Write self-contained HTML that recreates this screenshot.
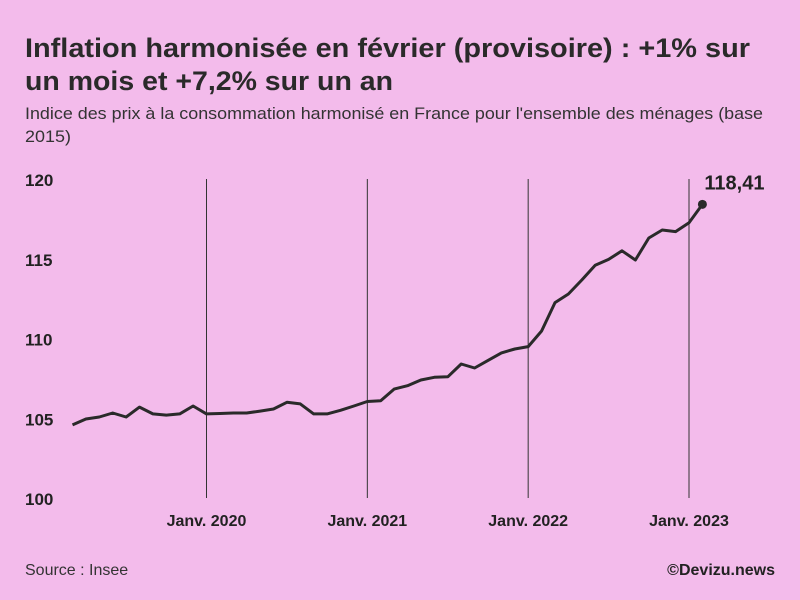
<!DOCTYPE html>
<html><head><meta charset="utf-8"><style>
html,body{margin:0;padding:0;background:#f3bbeb;}
svg{display:block;font-family:"Liberation Sans",sans-serif;}
</style></head><body>
<svg id="chart" width="800" height="600" viewBox="0 0 800 600" xmlns="http://www.w3.org/2000/svg">
<rect width="800" height="600" fill="#f3bbeb"/>
<text x="25" y="57" font-size="27" font-weight="bold" fill="#2a2a2a" textLength="725" lengthAdjust="spacingAndGlyphs">Inflation harmonisée en février (provisoire) : +1% sur</text>
<text x="25" y="90" font-size="27" font-weight="bold" fill="#2a2a2a" textLength="368" lengthAdjust="spacingAndGlyphs">un mois et +7,2% sur un an</text>
<text x="25" y="119" font-size="17" fill="#333" textLength="738" lengthAdjust="spacingAndGlyphs">Indice des prix à la consommation harmonisé en France pour l'ensemble des ménages (base</text>
<text x="25" y="142" font-size="17" fill="#333" textLength="46" lengthAdjust="spacingAndGlyphs">2015)</text>
<g id="grid"></g><g id="yaxis"></g><g id="xaxis"></g><g id="series"></g>
<text x="25" y="575" font-size="16" fill="#333">Source : Insee</text>
<text x="775" y="575" font-size="16" font-weight="bold" fill="#222" text-anchor="end">©Devizu.news</text>
</svg>
<script>
const months = ["2019-03","2019-04","2019-05","2019-06","2019-07","2019-08","2019-09","2019-10","2019-11","2019-12","2020-01","2020-02","2020-03","2020-04","2020-05","2020-06","2020-07","2020-08","2020-09","2020-10","2020-11","2020-12","2021-01","2021-02","2021-03","2021-04","2021-05","2021-06","2021-07","2021-08","2021-09","2021-10","2021-11","2021-12","2022-01","2022-02","2022-03","2022-04","2022-05","2022-06","2022-07","2022-08","2022-09","2022-10","2022-11","2022-12","2023-01","2023-02"];
const values = [104.58,104.95,105.08,105.33,105.08,105.7,105.27,105.2,105.27,105.77,105.27,105.3,105.33,105.33,105.45,105.58,106.0,105.9,105.27,105.27,105.5,105.77,106.05,106.1,106.83,107.04,107.4,107.57,107.6,108.4,108.15,108.63,109.1,109.34,109.49,110.47,112.25,112.79,113.67,114.59,114.96,115.5,114.92,116.3,116.8,116.7,117.26,118.41];
const yTicks = [100,105,110,115,120];
const xTickMonths = ["2020-01","2021-01","2022-01","2023-01"];
const xTickLabels = ["Janv. 2020","Janv. 2021","Janv. 2022","Janv. 2023"];
const lastLabel = "118,41";

const NS="http://www.w3.org/2000/svg";
function mi(m){const [y,mo]=m.split("-").map(Number);return (y-2019)*12+(mo-1);}
const x0=mi("2020-01"), px0=206.5, pxPerMonth=(689-206.5)/36;
function xs(m){return px0+(mi(m)-x0)*pxPerMonth;}
function ys(v){return 498-(v-100)*(498-179)/20;}
function mk(tag,attrs,parent,text){const e=document.createElementNS(NS,tag);for(const k in attrs)e.setAttribute(k,attrs[k]);if(text!=null)e.textContent=text;parent.appendChild(e);return e;}
const grid=document.getElementById("grid"),ya=document.getElementById("yaxis"),xa=document.getElementById("xaxis"),se=document.getElementById("series");
yTicks.forEach(t=>{
  const e=mk("text",{x:25,y:ys(t)+7,"font-size":17,"font-weight":"bold",fill:"#222"},ya,String(t));
  
  
});
xTickMonths.forEach((m,i)=>{
  const l=mk("line",{x1:xs(m),x2:xs(m),y1:ys(120),y2:ys(100),stroke:"#333","stroke-width":1},grid);
  
  
  const t=mk("text",{x:xs(m),y:526,"font-size":16,"font-weight":"bold",fill:"#222","text-anchor":"middle"},xa,xTickLabels[i]);
  
  
});
const d=months.map((m,i)=>(i?"L":"M")+xs(m).toFixed(1)+","+ys(values[i]).toFixed(1)).join("");
const p=mk("path",{d:d,fill:"none",stroke:"#2a2a2a","stroke-width":3,"stroke-linejoin":"round"},se);


const n=months.length-1;
const c=mk("circle",{cx:xs(months[n]),cy:ys(values[n]),r:4.5,fill:"#2a2a2a"},se);


const lt=mk("text",{x:xs(months[n])+2,y:ys(values[n])-15,"font-size":20,"font-weight":"bold",fill:"#222"},se,lastLabel);


</script>
</body></html>
